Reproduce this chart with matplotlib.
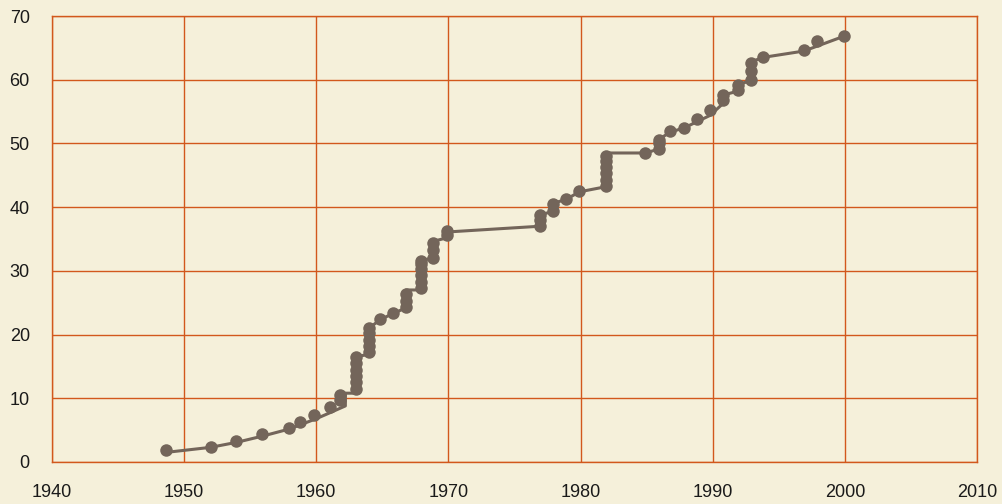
import matplotlib
matplotlib.use('Agg')
import matplotlib.pyplot as plt

# dots: (year, value)
dot_years = [1948.6, 1952.0, 1953.9, 1955.9, 1957.9, 1958.8, 1959.8, 1961.0,
             1961.8, 1961.8,
             1963.0, 1963.0, 1963.0, 1963.0, 1963.0, 1963.0,
             1964.0, 1964.0, 1964.0, 1964.0, 1964.0,
             1964.8, 1965.8,
             1966.8, 1966.8, 1966.8,
             1967.9, 1967.9, 1967.9, 1967.9, 1967.9, 1967.9,
             1968.8, 1968.8, 1968.8,
             1969.9, 1969.9,
             1976.9, 1976.9, 1976.9,
             1977.9, 1977.9, 1978.9, 1979.9,
             1981.9, 1981.9, 1981.9, 1981.9, 1981.9, 1981.9,
             1984.9, 1985.9, 1985.9, 1985.9,
             1986.8, 1987.8, 1988.8, 1989.8,
             1990.8, 1990.8, 1991.9, 1991.9,
             1992.9, 1992.9, 1992.9,
             1993.8, 1996.9, 1997.9, 1999.9]
dot_vals = [1.9, 2.4, 3.3, 4.4, 5.3, 6.2, 7.4, 8.6,
            9.8, 10.5,
            11.5, 12.5, 13.5, 14.5, 15.5, 16.5,
            17.2, 18.2, 19.2, 20.2, 21.1,
            22.4, 23.4,
            24.3, 25.3, 26.3,
            27.3, 28.3, 29.3, 30.3, 31.0, 31.6,
            32.0, 33.2, 34.4,
            35.6, 36.3,
            37.0, 38.0, 38.8,
            39.4, 40.5, 41.2, 42.6,
            43.3, 44.3, 45.3, 46.3, 47.2, 48.0,
            48.5, 49.2, 50.0, 50.5,
            52.0, 52.5, 53.8, 55.3,
            56.8, 57.6, 58.4, 59.2,
            60.0, 61.4, 62.7,
            63.5, 64.6, 66.0, 66.8]

# the connecting line, drawn a bit apart from the dots
line_years = [1948.6, 1952.0, 1954.0, 1956.0, 1958.0, 1959.0, 1960.0, 1961.0,
              1962.2, 1962.2, 1963.2, 1963.2, 1964.0, 1964.0, 1964.8, 1965.8,
              1966.8, 1966.8, 1967.9, 1967.9, 1968.8, 1968.8, 1969.9, 1969.9,
              1976.9, 1976.9, 1977.9, 1977.9, 1978.9, 1979.9,
              1981.9, 1981.9, 1984.9, 1985.9, 1985.9,
              1986.8, 1987.8, 1988.8, 1989.8, 1990.8, 1990.8,
              1991.9, 1991.9, 1992.9, 1992.9, 1993.8, 1996.9, 1999.9]
line_vals = [1.5, 2.3, 3.1, 4.1, 5.2, 6.0, 6.8, 7.7,
             8.8, 10.8, 10.8, 16.6, 16.9, 21.0, 22.3, 23.3,
             24.2, 27.0, 27.0, 31.6, 32.0, 34.6, 35.2, 36.1,
             37.0, 38.8, 39.3, 40.6, 41.2, 42.4,
             43.2, 48.5, 48.5, 49.1, 50.6,
             51.8, 52.4, 53.4, 54.4, 56.3, 57.6,
             58.2, 59.3, 59.8, 62.8, 63.5, 64.5, 66.8]

x_ticks = [1940, 1950, 1960, 1970, 1980, 1990, 2000, 2010]
y_ticks = [0, 10, 20, 30, 40, 50, 60, 70]

bg = '#f5f0da'
grid_col = '#d2581c'
mark_col = '#73655a'

plt.rcParams['font.family'] = ['Liberation Sans', 'DejaVu Sans']

fig = plt.figure(figsize=(10.03, 5.04), dpi=100, facecolor=bg)
ax = fig.add_axes([52/1003, 1-462/504, (977-52)/1003, (462-16)/504])
ax.set_facecolor(bg)

ax.plot(line_years, line_vals, color=mark_col, lw=2.2, zorder=3)
ax.plot(dot_years, dot_vals, 'o', color=mark_col, ms=9, mec='none', zorder=4)

ax.set_xlim(1940, 2010)
ax.set_ylim(0, 70)
ax.set_xticks(x_ticks)
ax.set_yticks(y_ticks)
ax.grid(True, color=grid_col, lw=1.0)
ax.set_axisbelow(True)
for s in ax.spines.values():
    s.set_color(grid_col)
    s.set_linewidth(1.0)
ax.tick_params(axis='both', length=0, labelsize=13, colors='#1a1a1a')
ax.tick_params(axis='y', pad=16)
ax.tick_params(axis='x', pad=16)

fig.savefig('out.png', dpi=100, facecolor=bg)
